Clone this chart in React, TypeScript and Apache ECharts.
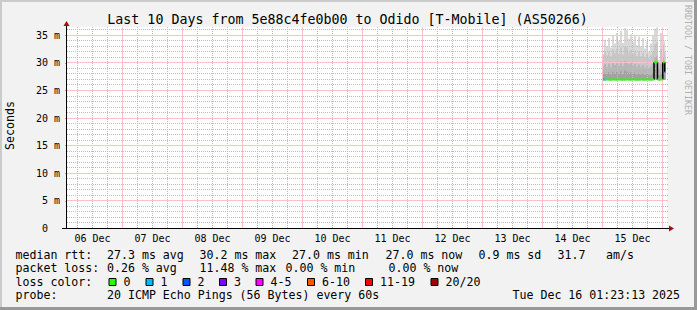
import React, { useEffect, useRef } from 'react';
import * as echarts from 'echarts';

// x values are hours since 06 Dec 00:00
const START_H = 1.8;
const END_H = 241.8;

const dayLabels = ['06 Dec', '07 Dec', '08 Dec', '09 Dec', '10 Dec', '11 Dec', '12 Dec', '13 Dec', '14 Dec', '15 Dec'];
const yTickValues = [0, 5, 10, 15, 20, 25, 30, 35];

const smokeHours = [216.2, 217.0, 217.8, 218.6, 219.4, 220.2, 221.0, 221.8, 222.6, 223.4, 224.2, 225.0, 225.8, 226.6, 227.4, 228.2, 229.0, 229.8, 230.6, 231.4, 232.2, 233.0, 233.8, 234.6, 235.4, 236.2, 237.0, 237.8, 238.6, 239.4, 240.2, 241.0, 241.4];
const smokeMin = [26.8, 26.8, 26.9, 26.8, 26.8, 26.9, 26.8, 26.8, 26.9, 26.8, 26.8, 26.8, 26.9, 26.8, 26.8, 26.9, 26.8, 26.8, 26.8, 26.9, 26.8, 26.8, 26.9, 26.8, 26.8, 26.9, 26.9, 26.9, 26.8, 26.9, 26.9, 26.9, 26.9];
const smokeQ1 = [28.0, 28.2, 28.0, 28.3, 27.9, 28.4, 28.1, 28.4, 28.0, 28.5, 28.0, 28.6, 28.4, 28.2, 28.3, 28.0, 28.2, 27.9, 28.1, 27.9, 28.1, 27.8, 28.0, 27.8, 27.9, 28.2, 29.8, 29.9, 27.8, 28.2, 29.8, 28.5, 28.3];
const smokeQ2 = [29.4, 29.8, 29.3, 29.9, 29.2, 30.1, 29.6, 30.2, 29.5, 30.3, 29.4, 30.4, 30.2, 29.7, 30.0, 29.5, 29.8, 29.3, 29.7, 29.2, 29.6, 29.1, 29.4, 29.0, 29.3, 29.8, 31.0, 31.2, 28.8, 29.8, 31.0, 30.0, 29.8];
const smokeQ3 = [31.5, 32.2, 31.4, 32.0, 31.2, 32.5, 31.8, 32.6, 31.6, 32.8, 31.5, 33.0, 32.8, 31.9, 32.4, 31.6, 32.2, 31.3, 32.0, 31.2, 31.8, 31.0, 31.6, 30.8, 31.4, 32.0, 33.4, 33.8, 30.0, 32.5, 33.2, 32.0, 31.5];
const smokeMax = [31.5, 34.2, 33.0, 34.5, 32.8, 35.0, 33.5, 35.4, 34.0, 35.8, 33.6, 36.3, 36.0, 34.4, 35.2, 33.8, 34.9, 33.2, 34.8, 33.0, 34.5, 32.6, 33.9, 32.0, 33.5, 35.0, 36.2, 36.4, 30.5, 35.4, 35.0, 34.0, 33.0];
const smokeColors = ['#a2a2a2', '#b6b6b6', '#c8c8c8', '#d9d9d9'];

const medianStart = [216.2, 217.1, 236.6, 238.0, 240.1, 240.9];
const medianEnd = [217.1, 236.6, 238.0, 240.1, 240.9, 241.4];
const medianValue = [27.0, 27.0, 30.1, 27.0, 30.1, 28.3];
const medianLoss = [1, 0, 0, 0, 0, 1];

const jumpHours = [236.6, 238.0, 240.1, 240.9];
const jumpLow = [27.0, 27.0, 27.0, 28.3];
const jumpHigh = [30.1, 30.1, 30.1, 30.1];

const lossLabels = ['0', '1', '2', '3', '4-5', '6-10', '11-19', '20/20'];
const lossColors = ['#26ff00', '#00b8ff', '#0059ff', '#7e00ff', '#ff00ff', '#ff5500', '#ff0000', '#a10000'];

const statsRtt = ['27.3 ms avg', '30.2 ms max', '27.0 ms min', '27.0 ms now', '0.9 ms sd', '31.7', 'am/s'];
const statsLoss = ['0.26 % avg', '11.48 % max', '0.00 % min', '0.00 % now'];
const probeText = '20 ICMP Echo Pings (56 Bytes) every 60s';
const dateText = 'Tue Dec 16 01:23:13 2025';
const titleText = 'Last 10 Days from 5e88c4fe0b00 to Odido [T-Mobile] (AS50266)';

// layout
const rttX = [107, 199.5, 292, 385.5, 478.5, 557.5, 606];
const lossX = [107, 199.5, 285.5, 388.5];
const boxX = [108.5, 145.5, 182.5, 219, 255.5, 307, 365, 430.5];
const MONO = "'DejaVu Sans Mono', monospace";
const Y_MAX = 36.5;
const MAJOR = '#fac2c2';
const MINOR = '#bdbdbd';

export default function App() {
  const ref = useRef<HTMLDivElement>(null);
  useEffect(() => {
    if (!ref.current) return;
    const chart = echarts.init(ref.current, undefined, { renderer: 'svg' });

    const minorHours: number[] = [];
    for (let h = 6; h < END_H; h += 6) if (h % 24 !== 0) minorHours.push(h);
    const dayHours: number[] = [];
    for (let h = 24; h < END_H; h += 24) dayHours.push(h);
    const noonHours = dayLabels.map((_, i) => 12 + 24 * i);
    const minorY: number[] = [];
    for (let v = 1; v < Y_MAX; v += 1) if (v % 5 !== 0) minorY.push(v);
    const majorY = yTickValues.filter((v) => v > 0);

    const series: any[] = [];

    // grid lines drawn through the axes' scales
    const vLines = (hours: number[], color: string, dash: number[] | null, z: number) => ({
      type: 'custom', silent: true, z, clip: false,
      data: hours.map((h) => [h, 0]),
      renderItem: (params: any, api: any) => {
        const cs = params.coordSys;
        const x = Math.floor(api.coord([api.value(0), 0])[0]) + 0.5;
        return { type: 'line', shape: { x1: x, y1: cs.y, x2: x, y2: cs.y + cs.height },
          style: { stroke: color, lineWidth: 1, lineDash: dash } };
      },
    });
    const hLines = (vals: number[], color: string, dash: number[] | null, z: number) => ({
      type: 'custom', silent: true, z, clip: false,
      data: vals.map((v) => [START_H, v]),
      renderItem: (params: any, api: any) => {
        const cs = params.coordSys;
        const y = Math.floor(api.coord([START_H, api.value(1)])[1]) + 0.5;
        return { type: 'line', shape: { x1: cs.x, y1: y, x2: cs.x + cs.width + 1, y2: y },
          style: { stroke: color, lineWidth: 1, lineDash: dash } };
      },
    });

    // smoke: layered areas, tallest (lightest) first, then a white area hides below the minimum
    const layers = [smokeMax, smokeQ3, smokeQ2, smokeQ1];
    const layerColors = [smokeColors[3], smokeColors[2], smokeColors[1], smokeColors[0]];
    layers.forEach((arr, k) => {
      series.push({
        type: 'line', step: 'middle', symbol: 'none', silent: true, z: 2,
        lineStyle: { opacity: 0, width: 0 },
        areaStyle: { color: layerColors[k], opacity: 1 },
        data: smokeHours.map((h, i) => [h, arr[i]]),
      });
    });
    series.push({
      type: 'line', step: 'middle', symbol: 'none', silent: true, z: 2,
      lineStyle: { opacity: 0, width: 0 },
      areaStyle: { color: '#ffffff', opacity: 1 },
      data: smokeHours.map((h, i) => [h, smokeMin[i]]),
    });

    series.push(vLines(minorHours, MINOR, [1, 1], 3));
    series.push(hLines(minorY, MINOR, [1, 1], 3));
    series.push(vLines(dayHours, MAJOR, null, 4));
    series.push(hLines(majorY, MAJOR, null, 4));

    const jumpData: any[] = [];
    jumpHours.forEach((h, i) => {
      jumpData.push([h, jumpLow[i]], [h, jumpHigh[i]], [h, null]);
    });
    series.push({
      type: 'line', symbol: 'none', silent: true, z: 6, connectNulls: false,
      lineStyle: { color: '#000', width: 1.5 },
      data: jumpData,
    });
    medianStart.forEach((s, i) => {
      series.push({
        type: 'line', symbol: 'none', silent: true, z: 7,
        lineStyle: { color: lossColors[medianLoss[i]], width: 2 },
        data: [[s, medianValue[i]], [medianEnd[i], medianValue[i]]],
      });
    });

    const text = (t: string, x: number, y: number, size: number, extra: any = {}) => ({
      type: 'text', x, y, silent: true, z: 100,
      style: { text: t, fill: '#000', fontFamily: MONO, fontSize: size, align: 'left', verticalAlign: 'middle', ...extra },
    });

    const graphic: any[] = [
      { type: 'rect', shape: { x: 0, y: 0, width: 697, height: 2 }, style: { fill: '#cbcbcb' }, silent: true },
      { type: 'rect', shape: { x: 0, y: 0, width: 2, height: 310 }, style: { fill: '#cbcbcb' }, silent: true },
      { type: 'rect', shape: { x: 0, y: 307, width: 697, height: 3 }, style: { fill: '#999999' }, silent: true },
      { type: 'rect', shape: { x: 694, y: 0, width: 3, height: 310 }, style: { fill: '#999999' }, silent: true },
      { type: 'line', shape: { x1: 62, y1: 228.5, x2: 670, y2: 228.5 }, style: { stroke: '#000', lineWidth: 1 }, silent: true, z: 50 },
      { type: 'line', shape: { x1: 66.5, y1: 228.5, x2: 66.5, y2: 25 }, style: { stroke: '#000', lineWidth: 1 }, silent: true, z: 50 },
      { type: 'polygon', shape: { points: [[63.5, 26], [66.5, 21], [69.5, 26]] }, style: { fill: '#a01010' }, silent: true, z: 51 },
      { type: 'polygon', shape: { points: [[669, 225.5], [674, 228.5], [669, 231.5]] }, style: { fill: '#a01010' }, silent: true, z: 51 },
      text(titleText, 347.5, 19.4, 13.3, { align: 'center' }),
      text('Seconds', 10, 125.5, 11.6, { align: 'center' }),
      text('RRDTOOL / TOBI OETIKER', 687.5, 60, 8.3, { align: 'center', fill: '#b0b0b0' }),
      text('median rtt:', 15.5, 254.5, 11.6),
      text('packet loss:', 15.5, 268, 11.6),
      text('loss color:', 15.5, 281.7, 11.6),
      text('probe:', 15.5, 295.4, 11.6),
      text(probeText, 107, 295.4, 11.6),
      text(dateText, 512.5, 295.4, 11.6),
    ];
    graphic[9].rotation = Math.PI / 2;
    graphic[10].rotation = -Math.PI / 2;
    statsRtt.forEach((s, i) => graphic.push(text(s, rttX[i], 254.5, 11.6)));
    statsLoss.forEach((s, i) => graphic.push(text(s, lossX[i], 268, 11.6)));
    lossLabels.forEach((l, i) => {
      graphic.push({
        type: 'rect', shape: { x: boxX[i] + 0.5, y: 278.5, width: 7, height: 7 },
        style: { fill: lossColors[i], stroke: '#000', lineWidth: 1 }, silent: true, z: 100,
      });
      graphic.push(text(l, boxX[i] + 15, 281.7, 11.6));
    });

    chart.setOption({
      animation: false,
      backgroundColor: '#f2f2f2',
      textStyle: { fontFamily: MONO },
      grid: { left: 67, right: 30, top: 27, bottom: 81.5, show: true, backgroundColor: '#ffffff', borderWidth: 0, containLabel: false },
      xAxis: {
        type: 'value', min: START_H, max: END_H, position: 'bottom',
        axisLine: { show: false }, splitLine: { show: false },
        axisTick: { show: false, customValues: noonHours },
        axisLabel: { show: true, customValues: noonHours, margin: 5, fontSize: 10, fontFamily: MONO, color: '#000',
          formatter: (v: number) => dayLabels[Math.round((v - 12) / 24)] ?? '' },
      },
      yAxis: {
        type: 'value', min: 0, max: Y_MAX, position: 'left',
        axisLine: { show: false }, splitLine: { show: false },
        axisTick: { show: true, length: 2, customValues: yTickValues, lineStyle: { color: '#ff8080' } },
        axisLabel: { show: true, customValues: yTickValues, margin: 7, fontSize: 10, fontFamily: MONO, color: '#000',
          formatter: (v: number) => (v === 0 ? '{z|0}' : `${v} m`),
          rich: { z: { fontSize: 10, fontFamily: MONO, color: '#000', padding: [0, 12, 0, 0] } } },
      },
      graphic,
      series,
    });
    return () => chart.dispose();
  }, []);
  return <div ref={ref} style={{ position: 'absolute', left: 0, top: 0, width: 697, height: 310 }} />;
}
